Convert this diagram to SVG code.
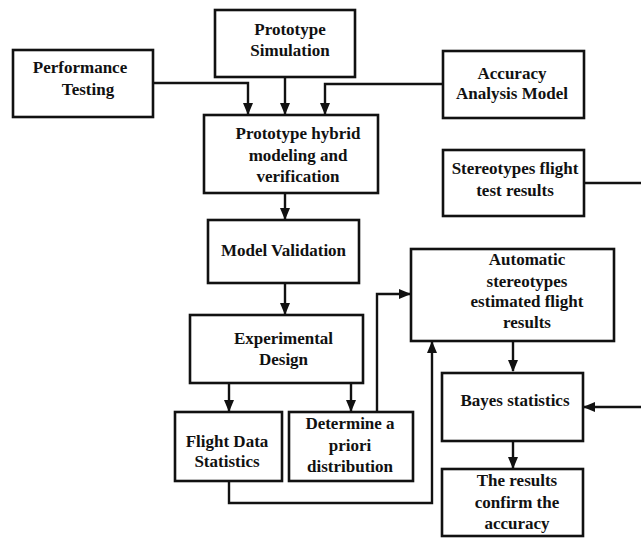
<svg xmlns="http://www.w3.org/2000/svg" width="641" height="538" viewBox="0 0 641 538">
<style>
.box{fill:#fff;stroke:#111;stroke-width:2.6}
.t{font-family:"Liberation Serif","Times New Roman",serif;font-weight:bold;font-size:17px;fill:#111;text-anchor:middle}
.c{fill:none;stroke:#111;stroke-width:2.4}
</style>
<defs>
<marker id="ah" markerUnits="userSpaceOnUse" markerWidth="12" markerHeight="10" refX="11" refY="5" orient="auto">
<path d="M0,0 L12,5 L0,10 Z" fill="#111"/>
</marker>
</defs>
<rect width="641" height="538" fill="#fff"/>
<g id="connectors">
<path class="c" d="M153,83 H248 V114" marker-end="url(#ah)"/>
<path class="c" d="M285,77 V114" marker-end="url(#ah)"/>
<path class="c" d="M443,84 H325 V114" marker-end="url(#ah)"/>
<path class="c" d="M285,193 V219" marker-end="url(#ah)"/>
<path class="c" d="M285,283 V314" marker-end="url(#ah)"/>
<path class="c" d="M229,383 V411" marker-end="url(#ah)"/>
<path class="c" d="M351,383 V411" marker-end="url(#ah)"/>
<path class="c" d="M377,412 V294 H410" marker-end="url(#ah)"/>
<path class="c" d="M229,481 V503 H432 V342" marker-end="url(#ah)"/>
<path class="c" d="M513,341 V371" marker-end="url(#ah)"/>
<path class="c" d="M513,441 V468" marker-end="url(#ah)"/>
<path class="c" d="M584,183 H646 V407 H584" marker-end="url(#ah)"/>
</g>
<g id="prototype-simulation">
<rect class="box" x="215" y="10" width="140" height="67"/>
<text class="t" x="290" y="35">Prototype</text>
<text class="t" x="290" y="56">Simulation</text>
</g>
<g id="performance-testing">
<rect class="box" x="13" y="50" width="140" height="67"/>
<text class="t" x="80" y="73">Performance</text>
<text class="t" x="88" y="95">Testing</text>
</g>
<g id="accuracy-analysis-model">
<rect class="box" x="443" y="51" width="141" height="67"/>
<text class="t" x="512" y="79">Accuracy</text>
<text class="t" x="512" y="99">Analysis Model</text>
</g>
<g id="prototype-hybrid">
<rect class="box" x="204" y="115" width="174" height="78"/>
<text class="t" x="298" y="139">Prototype hybrid</text>
<text class="t" x="298" y="161">modeling and</text>
<text class="t" x="298" y="182">verification</text>
</g>
<g id="stereotypes-flight-test">
<rect class="box" x="443" y="150" width="141" height="66"/>
<text class="t" x="515" y="174">Stereotypes flight</text>
<text class="t" x="515" y="196">test results</text>
</g>
<g id="model-validation">
<rect class="box" x="208" y="220" width="151" height="63"/>
<text class="t" x="283.5" y="256">Model Validation</text>
</g>
<g id="automatic-stereotypes">
<rect class="box" x="411" y="249" width="203" height="92"/>
<text class="t" x="527" y="265">Automatic</text>
<text class="t" x="527" y="287">stereotypes</text>
<text class="t" x="527" y="307">estimated flight</text>
<text class="t" x="527" y="328">results</text>
</g>
<g id="experimental-design">
<rect class="box" x="190" y="315" width="173" height="68"/>
<text class="t" x="283.5" y="344">Experimental</text>
<text class="t" x="283.5" y="365">Design</text>
</g>
<g id="flight-data-statistics">
<rect class="box" x="175" y="412" width="107" height="69"/>
<text class="t" x="227" y="447">Flight Data</text>
<text class="t" x="227" y="467">Statistics</text>
</g>
<g id="determine-priori">
<rect class="box" x="289" y="412" width="124" height="69"/>
<text class="t" x="350" y="429">Determine a</text>
<text class="t" x="350" y="451">priori</text>
<text class="t" x="350" y="472">distribution</text>
</g>
<g id="bayes-statistics">
<rect class="box" x="442" y="373" width="141" height="68"/>
<text class="t" x="515" y="406">Bayes statistics</text>
</g>
<g id="results-confirm">
<rect class="box" x="442" y="469" width="141" height="67"/>
<text class="t" x="517" y="486">The results</text>
<text class="t" x="517" y="508">confirm the</text>
<text class="t" x="517" y="529">accuracy</text>
</g>
</svg>
